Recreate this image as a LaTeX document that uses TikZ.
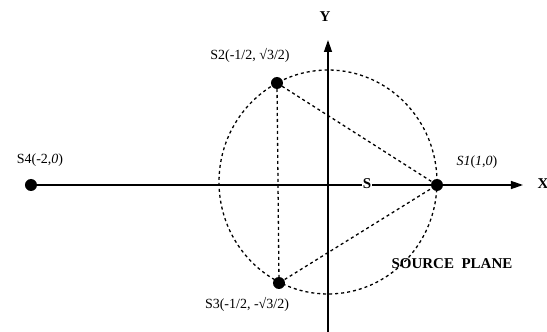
\documentclass[tikz,border=0pt]{standalone}
\usepackage{fontspec}
\setmainfont{Liberation Serif}
\usepackage{tikz}
\usetikzlibrary{arrows.meta,positioning}

\begin{document}
\begin{tikzpicture}[x=1pt,y=1pt,every node/.style={font=\fontsize{14}{16}\selectfont},
  dot/.style={circle,fill=black,inner sep=0pt,minimum size=12pt},
  lab/.style={inner sep=1pt},
  big/.style={inner sep=1pt,font=\fontsize{15}{17}\selectfont\bfseries},
  axis/.style={line width=1.3pt,-{Triangle[length=12pt,width=8pt]}},
  dsh/.style={line width=1.3pt,dash pattern=on 3pt off 3pt}]
  \useasboundingbox (-328,-147) rectangle (219,185);
  \coordinate (O) at (0,0);
  \coordinate (xend) at (195,0);
  \coordinate (ybot) at (0,-147);
  \coordinate (yend) at (0,145);
  % sources
  \node[dot] (s1) at (109,0) {};
  \node[dot] (s2) at (-51,102) {};
  \node[dot] (s3) at (-49,-98) {};
  \node[dot] (s4) at (-297,0) {};
  % axes
  \draw[axis] (s4.center)--(xend);
  \draw[axis] (ybot)--(yend);
  \node[big] (xlab) at (215,1) {X};
  \node[big] (ylab) at (-3,168) {Y};
  \node[big,fill=white] (slab) at (39,1) {S};
  % circle and triangle
  \draw[dsh] (0,3) ellipse[x radius=109,y radius=112];
  \draw[dsh] (s2.center)--(s1.center)--(s3.center);
  \draw[dsh] (s2.center)--(s3.center);
  % labels
  \node[lab] (s1lab) at (149,23) {\textit{S1}(\textit{1},\textit{0})};
  \node[lab] (s2lab) at (-78,130) {S2(-1/2, \symbol{"221A}3/2)};
  \node[lab] (s3lab) at (-81,-119) {S3(-1/2, -\symbol{"221A}3/2)};
  \node[lab] (s4lab) at (-288,25) {S4(-2,\textit{0})};
  \node[big] (plane) at (124,-79) {SOURCE\ \ PLANE};
\end{tikzpicture}
\end{document}
